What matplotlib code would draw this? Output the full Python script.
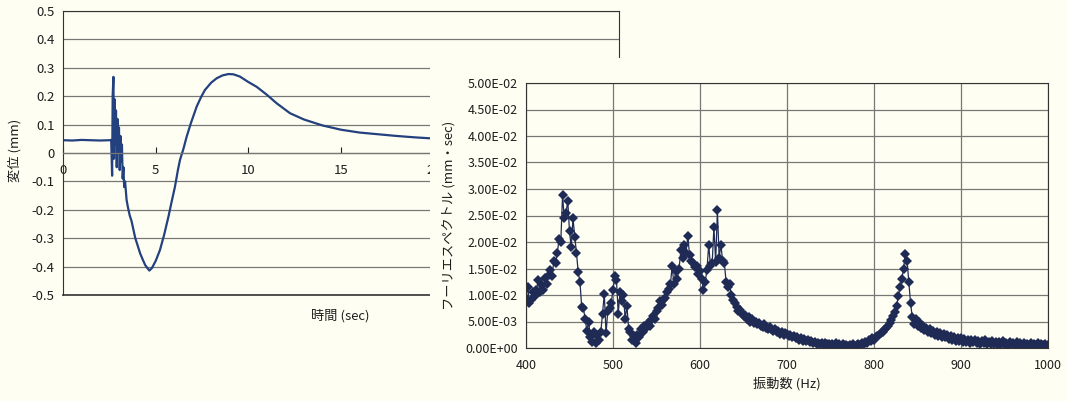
import numpy as np
import matplotlib
matplotlib.use('Agg')
import matplotlib.pyplot as plt
from matplotlib.patches import Rectangle
from matplotlib.ticker import FuncFormatter

plt.rcParams['font.family'] = ['Noto Sans CJK JP', 'DejaVu Sans']

# displacement record (sec, mm)
time_s = [0, 0.5, 1, 1.5, 2, 2.5, 2.6, 2.65, 2.68, 2.72, 2.75, 2.78, 2.82, 2.86,
          2.9, 2.94, 2.98, 3.02, 3.06, 3.1, 3.14, 3.18, 3.22, 3.26, 3.3, 3.35,
          3.43, 3.5, 3.6, 3.7, 3.8, 3.9, 4.0, 4.16, 4.3, 4.43, 4.55, 4.66, 4.8,
          5.0, 5.23, 5.45, 5.69, 5.85, 6.04, 6.2, 6.31, 6.5, 6.67, 6.9, 7.21,
          7.45, 7.66, 8.0, 8.29, 8.6, 8.92, 9.2, 9.55, 10.0, 10.45, 11.0, 11.53,
          12.25, 13.0, 14.0, 15.0, 16.0, 17.0, 18.0, 19.0, 20.0, 20.5]
disp_mm = [0.045, 0.044, 0.046, 0.045, 0.044, 0.045, 0.046, -0.08, 0.2, 0.268,
           -0.02, 0.19, 0.03, 0.15, -0.05, 0.12, 0.0, 0.09, -0.06, 0.06, -0.03,
           0.03, -0.09, -0.05, -0.12, -0.1, -0.165, -0.19, -0.22, -0.24, -0.27,
           -0.3, -0.32, -0.353, -0.375, -0.394, -0.405, -0.414, -0.405, -0.38,
           -0.342, -0.29, -0.224, -0.175, -0.119, -0.06, -0.025, 0.015, 0.057,
           0.105, 0.163, 0.197, 0.222, 0.248, 0.263, 0.273, 0.278, 0.277, 0.269,
           0.25, 0.233, 0.205, 0.175, 0.14, 0.118, 0.097, 0.082, 0.072, 0.066,
           0.06, 0.055, 0.051, 0.05]

# fourier spectrum, 400..1000 Hz every 2 Hz, values in 1e-3 mm*sec
freq_hz = np.arange(400, 1001, 2)
spec_e3 = [
    9.5, 11.5, 8.5, 9.0, 10.5, 9.8, 11.0, 12.8, 10.5, 11.8,
    11.0, 13.2, 12.0, 13.8, 14.8, 13.5, 16.5, 16.0, 18.0, 20.5,
    20.0, 28.8, 24.5, 25.5, 27.8, 22.0, 19.0, 24.5, 21.0, 18.0,
    14.3, 12.5, 7.8, 7.5, 5.5, 3.2, 5.0, 2.0, 1.2, 3.0,
    1.0, 2.5, 1.5, 3.0, 6.5, 10.2, 2.8, 7.0, 7.5, 8.5,
    11.0, 13.5, 12.8, 6.5, 10.5, 8.8, 10.0, 5.5, 8.0, 3.5,
    3.0, 1.5, 2.2, 1.0, 2.5, 2.0, 3.5, 3.0, 4.2, 3.8,
    4.8, 4.2, 5.2, 6.0, 5.5, 7.0, 7.5, 8.8, 8.2, 9.0,
    9.5, 10.5, 11.2, 12.0, 15.5, 12.0, 14.5, 13.0, 15.0, 18.5,
    17.0, 19.5, 18.0, 21.2, 17.5, 16.5, 16.0, 15.2, 15.5, 14.0,
    14.5, 13.0, 11.0, 12.5, 14.8, 19.5, 15.5, 16.0, 22.8, 16.2,
    26.0, 17.0, 19.5, 16.5, 16.0, 12.5, 11.5, 12.0, 10.0, 9.0,
    8.5, 7.8, 7.0, 7.2, 6.5, 6.0, 6.2, 5.5, 5.8, 5.0,
    5.5, 4.8, 5.0, 4.5, 4.8, 4.2, 4.0, 4.5, 3.8, 3.5,
    4.0, 3.5, 3.2, 3.6, 3.0, 3.2, 2.6, 3.0, 2.5, 2.8,
    2.6, 2.2, 2.5, 2.0, 2.3, 1.8, 2.1, 1.6, 1.9, 1.4,
    1.7, 1.3, 1.5, 1.1, 1.3, 0.9, 1.2, 0.8, 1.0, 0.7,
    0.9, 0.6, 0.9, 0.7, 0.8, 0.5, 0.8, 0.6, 0.9, 0.5,
    0.7, 0.4, 0.7, 0.5, 0.6, 0.3, 0.6, 0.4, 0.7, 0.2,
    0.6, 0.8, 0.5, 0.9, 0.8, 1.2, 1.0, 1.5, 1.3, 1.8,
    1.6, 2.0, 2.2, 2.4, 2.8, 3.0, 3.4, 3.8, 4.2, 4.8,
    5.2, 6.0, 6.8, 8.0, 9.8, 11.5, 13.0, 15.0, 17.8, 16.5,
    12.5, 8.5, 5.8, 4.5, 5.5, 4.2, 5.0, 3.8, 4.2, 3.4,
    3.8, 3.0, 3.5, 2.8, 3.2, 2.5, 3.0, 2.3, 2.8, 2.0,
    2.6, 2.0, 2.4, 1.7, 2.2, 1.5, 2.0, 1.4, 1.9, 1.3,
    1.8, 1.2, 1.7, 1.1, 1.6, 1.0, 1.5, 1.1, 1.6, 0.9,
    1.4, 0.8, 1.3, 0.9, 1.5, 0.8, 1.2, 0.7, 1.3, 0.8,
    1.2, 0.6, 1.1, 0.7, 1.3, 0.6, 1.0, 0.5, 1.1, 0.7,
    1.0, 0.5, 1.1, 0.4, 0.9, 0.6, 1.0, 0.4, 0.8, 0.5,
    0.9, 0.4, 0.8, 0.5, 1.0, 0.3, 0.7, 0.5, 0.8, 0.3,
    0.5]
spec = np.array(spec_e3) * 1e-3

bg = '#fffef2'
grid_c = '#777777'
txt_c = '#1e1e1e'

W, H = 1067, 401
fig = plt.figure(figsize=(W / 100, H / 100), dpi=100, facecolor=bg)


def box(x0, y0, x1, y1):
    # pixel box (top-left origin) -> figure fraction
    return [x0 / W, (H - y1) / H, (x1 - x0) / W, (y1 - y0) / H]


# ---- left: displacement vs time
ax1 = fig.add_axes(box(63, 11, 619, 295), zorder=0)
ax1.set_facecolor(bg)
ax1.plot(time_s, disp_mm, color='#23407f', lw=1.6)
ax1.set_xlim(0, 30)
ax1.set_ylim(-0.5, 0.5)
ax1.set_yticks(np.arange(-0.5, 0.51, 0.1))
ax1.yaxis.set_major_formatter(FuncFormatter(lambda v, p: '0' if abs(v) < 1e-9 else f'{v:.1f}'))
ax1.set_xticks([0, 5, 10, 15, 20, 25, 30])
ax1.grid(axis='y', color=grid_c, lw=0.9)
ax1.spines['bottom'].set_position(('data', 0))
ax1.spines['bottom'].set_color(grid_c)
ax1.spines['bottom'].set_linewidth(0.9)
for s in ['left', 'top', 'right']:
    ax1.spines[s].set_color('#333333')
ax1.axhline(-0.5, color='#333333', lw=1.2, clip_on=False)
ax1.tick_params(axis='x', direction='in', length=4, pad=8, labelsize=9.5,
                colors=txt_c)
ax1.tick_params(axis='y', length=0, pad=6, labelsize=9.5, colors=txt_c)
ax1.set_xlabel('時間 (sec)', fontsize=9.5, color=txt_c)
ax1.xaxis.set_label_coords(0.498, -0.05)
ax1.set_ylabel('変位 (mm)', fontsize=9.5, color=txt_c)
ax1.yaxis.set_label_coords(-0.075, 0.51)

# right chart sits on its own sheet over the left one
fig.patches.append(Rectangle((430 / W, 0), (W - 430) / W, (H - 58) / H,
                             transform=fig.transFigure, facecolor=bg,
                             edgecolor='none', zorder=1))

# ---- right: fourier spectrum
ax2 = fig.add_axes(box(526, 83, 1048, 348), zorder=2)
ax2.set_facecolor(bg)
ax2.plot(freq_hz, spec, color='#1f2b55', lw=0.9, marker='D', ms=5.2,
         markeredgewidth=0)
ax2.set_xlim(400, 1000)
ax2.set_ylim(0, 0.05)
ax2.set_xticks(np.arange(400, 1001, 100))
ax2.set_yticks(np.arange(0, 0.0501, 0.005))
ax2.yaxis.set_major_formatter(FuncFormatter(lambda v, p: f'{v:.2E}'))
ax2.grid(True, color=grid_c, lw=0.9)
ax2.set_axisbelow(True)
for s in ax2.spines.values():
    s.set_color('#333333')
ax2.tick_params(length=0, labelsize=9, colors=txt_c)
ax2.tick_params(axis='x', pad=8)
ax2.tick_params(axis='y', pad=6)
ax2.set_xlabel('振動数 (Hz)', fontsize=9.5, color=txt_c)
ax2.xaxis.set_label_coords(0.5, -0.11)
ax2.set_ylabel('フーリエスペクトル (mm・sec)', fontsize=9.5, color=txt_c)
ax2.yaxis.set_label_coords(-0.135, 0.5)

fig.savefig('out.png', dpi=100, facecolor=bg)
